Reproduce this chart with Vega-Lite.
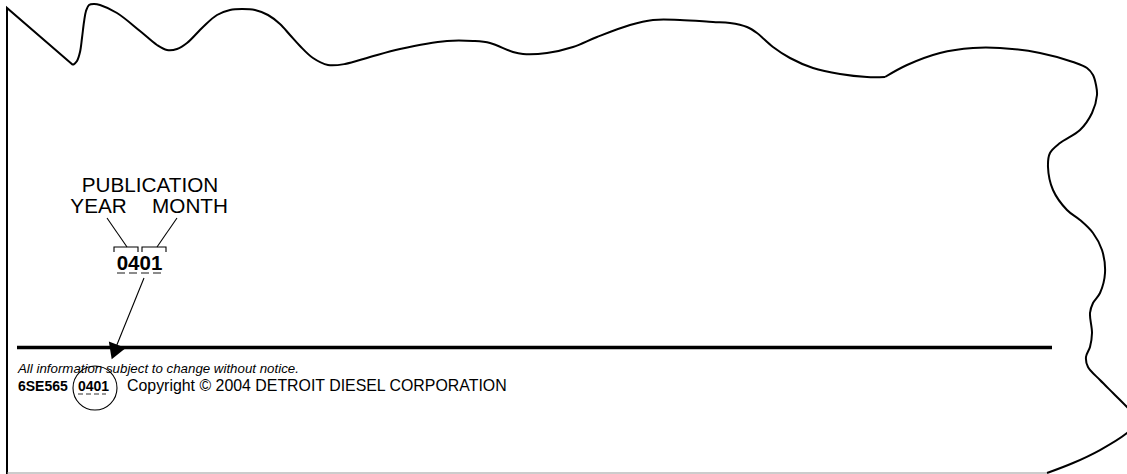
{
  "$schema": "https://vega.github.io/schema/vega-lite/v6.json",
  "width": 1127,
  "height": 474,
  "autosize": {"type": "fit", "contains": "padding"},
  "padding": 0,
  "background": "white",
  "config": {"view": {"stroke": null}, "font": "Liberation Sans"},
  "datasets": {
    "straight": [
      {"seg": "s1", "o": 1, "x": 7, "y": 474},
      {"seg": "s1", "o": 2, "x": 7, "y": 8},
      {"seg": "s1", "o": 3, "x": 73, "y": 65}
    ],
    "curve": [
      {"seg": "c1", "o": 1, "x": 73, "y": 65},
      {"seg": "c1", "o": 2, "x": 77, "y": 61},
      {"seg": "c1", "o": 3, "x": 80, "y": 52},
      {"seg": "c1", "o": 4, "x": 82, "y": 38},
      {"seg": "c1", "o": 5, "x": 84, "y": 22},
      {"seg": "c1", "o": 6, "x": 86, "y": 11},
      {"seg": "c1", "o": 7, "x": 89, "y": 5},
      {"seg": "c1", "o": 8, "x": 94, "y": 4},
      {"seg": "c1", "o": 9, "x": 100, "y": 5},
      {"seg": "c1", "o": 10, "x": 117, "y": 13},
      {"seg": "c1", "o": 11, "x": 140, "y": 31},
      {"seg": "c1", "o": 12, "x": 157, "y": 45},
      {"seg": "c1", "o": 13, "x": 167, "y": 50},
      {"seg": "c1", "o": 14, "x": 177, "y": 49},
      {"seg": "c1", "o": 15, "x": 187, "y": 43},
      {"seg": "c1", "o": 16, "x": 203, "y": 27},
      {"seg": "c1", "o": 17, "x": 217, "y": 15},
      {"seg": "c1", "o": 18, "x": 230, "y": 10},
      {"seg": "c1", "o": 19, "x": 242, "y": 9},
      {"seg": "c1", "o": 20, "x": 255, "y": 10},
      {"seg": "c1", "o": 21, "x": 268, "y": 15},
      {"seg": "c1", "o": 22, "x": 280, "y": 24},
      {"seg": "c1", "o": 23, "x": 290, "y": 35},
      {"seg": "c1", "o": 24, "x": 300, "y": 46},
      {"seg": "c1", "o": 25, "x": 313, "y": 58},
      {"seg": "c1", "o": 26, "x": 328, "y": 65},
      {"seg": "c1", "o": 27, "x": 345, "y": 64},
      {"seg": "c1", "o": 28, "x": 370, "y": 57},
      {"seg": "c1", "o": 29, "x": 400, "y": 49},
      {"seg": "c1", "o": 30, "x": 447, "y": 41},
      {"seg": "c1", "o": 31, "x": 473, "y": 41},
      {"seg": "c1", "o": 32, "x": 490, "y": 43},
      {"seg": "c1", "o": 33, "x": 513, "y": 52},
      {"seg": "c1", "o": 34, "x": 523, "y": 54},
      {"seg": "c1", "o": 35, "x": 547, "y": 53},
      {"seg": "c1", "o": 36, "x": 573, "y": 47},
      {"seg": "c1", "o": 37, "x": 597, "y": 37},
      {"seg": "c1", "o": 38, "x": 630, "y": 25},
      {"seg": "c1", "o": 39, "x": 653, "y": 20},
      {"seg": "c1", "o": 40, "x": 680, "y": 20},
      {"seg": "c1", "o": 41, "x": 713, "y": 22},
      {"seg": "c1", "o": 42, "x": 730, "y": 23},
      {"seg": "c1", "o": 43, "x": 747, "y": 27},
      {"seg": "c1", "o": 44, "x": 757, "y": 33},
      {"seg": "c1", "o": 45, "x": 773, "y": 47},
      {"seg": "c1", "o": 46, "x": 790, "y": 58},
      {"seg": "c1", "o": 47, "x": 813, "y": 68},
      {"seg": "c1", "o": 48, "x": 840, "y": 74},
      {"seg": "c1", "o": 49, "x": 867, "y": 77},
      {"seg": "c1", "o": 50, "x": 885, "y": 77},
      {"seg": "c2", "o": 1, "x": 885, "y": 77},
      {"seg": "c2", "o": 2, "x": 907, "y": 65},
      {"seg": "c2", "o": 3, "x": 940, "y": 53},
      {"seg": "c2", "o": 4, "x": 973, "y": 48},
      {"seg": "c2", "o": 5, "x": 1000, "y": 48},
      {"seg": "c2", "o": 6, "x": 1040, "y": 53},
      {"seg": "c2", "o": 7, "x": 1073, "y": 62},
      {"seg": "c2", "o": 8, "x": 1087, "y": 68},
      {"seg": "c2", "o": 9, "x": 1093, "y": 75},
      {"seg": "c2", "o": 10, "x": 1096, "y": 85},
      {"seg": "c2", "o": 11, "x": 1097, "y": 95},
      {"seg": "c2", "o": 12, "x": 1092, "y": 113},
      {"seg": "c2", "o": 13, "x": 1080, "y": 130},
      {"seg": "c2", "o": 14, "x": 1060, "y": 143},
      {"seg": "c2", "o": 15, "x": 1050, "y": 153},
      {"seg": "c2", "o": 16, "x": 1048, "y": 167},
      {"seg": "c2", "o": 17, "x": 1053, "y": 190},
      {"seg": "c2", "o": 18, "x": 1067, "y": 210},
      {"seg": "c2", "o": 19, "x": 1080, "y": 220},
      {"seg": "c2", "o": 20, "x": 1093, "y": 233},
      {"seg": "c2", "o": 21, "x": 1102, "y": 250},
      {"seg": "c2", "o": 22, "x": 1105, "y": 273},
      {"seg": "c2", "o": 23, "x": 1100, "y": 293},
      {"seg": "c2", "o": 24, "x": 1093, "y": 303},
      {"seg": "c2", "o": 25, "x": 1090, "y": 313},
      {"seg": "c2", "o": 26, "x": 1092, "y": 333},
      {"seg": "c2", "o": 27, "x": 1090, "y": 347},
      {"seg": "c2", "o": 28, "x": 1086, "y": 357},
      {"seg": "c2", "o": 29, "x": 1088, "y": 367},
      {"seg": "c2", "o": 30, "x": 1100, "y": 380},
      {"seg": "c2", "o": 31, "x": 1113, "y": 393},
      {"seg": "c2", "o": 32, "x": 1127, "y": 407},
      {"seg": "c2", "o": 33, "x": 1135, "y": 416},
      {"seg": "c2", "o": 34, "x": 1135, "y": 425},
      {"seg": "c2", "o": 35, "x": 1127, "y": 433},
      {"seg": "c2", "o": 36, "x": 1100, "y": 450},
      {"seg": "c2", "o": 37, "x": 1073, "y": 463},
      {"seg": "c2", "o": 38, "x": 1047, "y": 473}
    ],
    "thin": [
      {"seg": "leadYear", "o": 1, "x": 107, "y": 218},
      {"seg": "leadYear", "o": 2, "x": 127, "y": 247},
      {"seg": "leadMonth", "o": 1, "x": 177, "y": 218},
      {"seg": "leadMonth", "o": 2, "x": 157, "y": 247},
      {"seg": "bracketYear", "o": 1, "x": 114, "y": 252},
      {"seg": "bracketYear", "o": 2, "x": 114, "y": 247},
      {"seg": "bracketYear", "o": 3, "x": 138, "y": 247},
      {"seg": "bracketYear", "o": 4, "x": 138, "y": 252},
      {"seg": "bracketMonth", "o": 1, "x": 142, "y": 252},
      {"seg": "bracketMonth", "o": 2, "x": 142, "y": 247},
      {"seg": "bracketMonth", "o": 3, "x": 166, "y": 247},
      {"seg": "bracketMonth", "o": 4, "x": 166, "y": 252},
      {"seg": "arrow", "o": 1, "x": 144, "y": 278},
      {"seg": "arrow", "o": 2, "x": 114, "y": 352}
    ],
    "thickRule": [{"x": 17, "x2": 1052, "y": 347.5}],
    "bottomEdge": [{"x": 7, "x2": 1047, "y": 473}],
    "dashes": [
      {"item": "big", "x": 117, "x2": 162, "y": 273},
      {"item": "small", "x": 78, "x2": 106, "y": 394}
    ],
    "arrowHead": [{"x": 114.5, "y": 352}],
    "ring": [{"x": 95, "y": 388}],
    "labels": [
      {"t": "PUBLICATION", "x": 150, "y": 192},
      {"t": "YEAR", "x": 98.5, "y": 213},
      {"t": "MONTH", "x": 190, "y": 213}
    ],
    "bigCode": [{"t": "0401", "x": 139.5, "y": 270}],
    "italicNote": [{"t": "All information subject to change without notice.", "x": 18, "y": 373}],
    "boldFooter": [
      {"t": "6SE565", "x": 18, "y": 391},
      {"t": "0401", "x": 78, "y": 391}
    ],
    "plainFooter": [{"t": "Copyright © 2004 DETROIT DIESEL CORPORATION", "x": 127, "y": 391}]
  },
  "encoding": {
    "x": {"field": "x", "type": "quantitative", "axis": null, "scale": {"domain": [0, 1127], "nice": false, "zero": false}},
    "y": {"field": "y", "type": "quantitative", "axis": null, "scale": {"domain": [0, 474], "nice": false, "zero": false, "reverse": true}}
  },
  "layer": [
    {
      "data": {"name": "straight"},
      "mark": {"type": "line", "interpolate": "linear", "stroke": "black", "strokeWidth": 2, "clip": true},
      "encoding": {"detail": {"field": "seg"}, "order": {"field": "o", "type": "quantitative"}}
    },
    {
      "data": {"name": "curve"},
      "mark": {"type": "line", "interpolate": "catmull-rom", "stroke": "black", "strokeWidth": 2, "clip": true},
      "encoding": {"detail": {"field": "seg"}, "order": {"field": "o", "type": "quantitative"}}
    },
    {
      "data": {"name": "bottomEdge"},
      "mark": {"type": "rule", "stroke": "#9a9a9a", "strokeWidth": 1.2},
      "encoding": {"x2": {"field": "x2"}}
    },
    {
      "data": {"name": "thickRule"},
      "mark": {"type": "rule", "stroke": "black", "strokeWidth": 3.5},
      "encoding": {"x2": {"field": "x2"}}
    },
    {
      "data": {"name": "thin"},
      "mark": {"type": "line", "interpolate": "linear", "stroke": "black", "strokeWidth": 1.1},
      "encoding": {"detail": {"field": "seg"}, "order": {"field": "o", "type": "quantitative"}}
    },
    {
      "data": {"name": "dashes"},
      "transform": [{"filter": "datum.item === 'big'"}],
      "mark": {"type": "rule", "stroke": "#666666", "strokeWidth": 1.5, "strokeDash": [8, 4]},
      "encoding": {"x2": {"field": "x2"}}
    },
    {
      "data": {"name": "dashes"},
      "transform": [{"filter": "datum.item === 'small'"}],
      "mark": {"type": "rule", "stroke": "#333333", "strokeWidth": 1.2, "strokeDash": [5, 3]},
      "encoding": {"x2": {"field": "x2"}}
    },
    {
      "data": {"name": "arrowHead"},
      "mark": {"type": "point", "shape": "triangle-down", "filled": true, "fill": "black", "stroke": null, "size": 330, "angle": 21, "opacity": 1},
      "encoding": {}
    },
    {
      "data": {"name": "ring"},
      "mark": {"type": "point", "shape": "circle", "filled": false, "stroke": "black", "strokeWidth": 1.1, "size": 1936, "opacity": 1},
      "encoding": {}
    },
    {
      "data": {"name": "labels"},
      "mark": {"type": "text", "align": "center", "baseline": "alphabetic", "fontSize": 20.7, "font": "Liberation Sans", "color": "black"},
      "encoding": {"text": {"field": "t"}}
    },
    {
      "data": {"name": "bigCode"},
      "mark": {"type": "text", "align": "center", "baseline": "alphabetic", "fontSize": 20.5, "fontWeight": "bold", "font": "Liberation Sans", "color": "black"},
      "encoding": {"text": {"field": "t"}}
    },
    {
      "data": {"name": "italicNote"},
      "mark": {"type": "text", "align": "left", "baseline": "alphabetic", "fontSize": 13.3, "fontStyle": "italic", "font": "Liberation Sans", "color": "black"},
      "encoding": {"text": {"field": "t"}}
    },
    {
      "data": {"name": "boldFooter"},
      "mark": {"type": "text", "align": "left", "baseline": "alphabetic", "fontSize": 14, "fontWeight": "bold", "font": "Liberation Sans", "color": "black"},
      "encoding": {"text": {"field": "t"}}
    },
    {
      "data": {"name": "plainFooter"},
      "mark": {"type": "text", "align": "left", "baseline": "alphabetic", "fontSize": 15.9, "font": "Liberation Sans", "color": "black"},
      "encoding": {"text": {"field": "t"}}
    }
  ]
}
